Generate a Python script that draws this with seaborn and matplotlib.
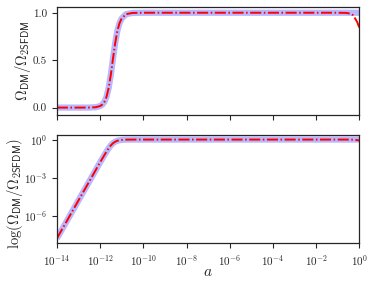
import numpy as np
import pandas as pd
import matplotlib
matplotlib.use('Agg')
import matplotlib.pyplot as plt
import matplotlib.ticker as mticker
import seaborn as sns

# scale factor a (log10 spacing)
log_a = [-14, -13.5, -13, -12.5, -12.2, -12.0, -11.9, -11.8, -11.7, -11.6,
         -11.5, -11.4, -11.3, -11.2, -11.1, -11.0, -10.8, -10.5, -10, -8,
         -6, -4, -2, -1, -0.6, -0.4, -0.3, -0.2, -0.1, 0]
# Omega_DM / Omega_2SFDM, reference solution (thick lavender band)
ratio_ref = [1.6e-8, 5.0e-7, 1.6e-5, 5.0e-4, 4.0e-3, 0.016, 0.031, 0.06, 0.115,
             0.21, 0.35, 0.52, 0.68, 0.81, 0.89, 0.94, 0.985, 0.998, 1.0, 1.0,
             1.0, 1.0, 1.0, 1.0, 1.0, 1.0, 1.0, 1.0, 1.0, 1.0]
# same ratio, second solution (red dash-dot), departs near a ~ 1
ratio_fit = [1.6e-8, 5.0e-7, 1.6e-5, 5.0e-4, 4.0e-3, 0.016, 0.031, 0.06, 0.115,
             0.21, 0.35, 0.52, 0.68, 0.81, 0.89, 0.94, 0.985, 0.998, 1.0, 1.0,
             1.0, 1.0, 1.0, 1.0, 0.998, 0.99, 0.975, 0.94, 0.9, 0.84]

df = pd.DataFrame({'a': 10.0 ** np.array(log_a), 'ref': ratio_ref, 'fit': ratio_fit})

sns.set_style('ticks')
plt.rcParams['font.family'] = 'serif'
plt.rcParams['font.serif'] = ['cmr10', 'DejaVu Serif']
plt.rcParams['mathtext.fontset'] = 'cm'
plt.rcParams['axes.formatter.use_mathtext'] = True
plt.rcParams['xtick.labelsize'] = 8
plt.rcParams['ytick.labelsize'] = 8

fig, (ax1, ax2) = plt.subplots(2, 1, figsize=(3.74, 2.86), dpi=100, sharex=True)
fig.subplots_adjust(left=0.152, right=0.961, top=0.977, bottom=0.149, hspace=0.19)

for ax in (ax1, ax2):
    sns.lineplot(data=df, x='a', y='ref', ax=ax, color='blue', alpha=0.28, lw=4.5,
                 solid_capstyle='butt')
    sns.lineplot(data=df, x='a', y='fit', ax=ax, color='red', lw=1.4,
                 linestyle=(0, (5.7, 1.3, 0.8, 1.3)))
    ax.set_xscale('log')
    ax.set_xlim(1e-14, 1e0)
    for s in ax.spines.values():
        s.set_linewidth(0.9)

ax1.set_ylim(-0.075, 1.065)
ax1.set_yticks([0.0, 0.5, 1.0])
ax1.yaxis.set_major_formatter(mticker.FormatStrFormatter('%.1f'))
ax1.set_xlabel('')
ax1.set_ylabel(r'$\Omega_{\mathsf{DM}}/\Omega_{\mathsf{2SFDM}}$', fontsize=10.5)
ax1.yaxis.set_label_coords(-0.08, 0.5)

ax2.set_yscale('log')
ax2.set_ylim(10 ** -8.18, 10 ** 0.34)
ax2.yaxis.set_major_locator(mticker.FixedLocator([1e-6, 1e-3, 1e0]))
ax2.yaxis.set_minor_locator(mticker.NullLocator())
ax2.xaxis.set_major_locator(mticker.FixedLocator([10.0 ** k for k in range(-14, 1, 2)]))
ax2.xaxis.set_minor_locator(mticker.NullLocator())
ax2.set_xlabel(r'$a$', fontsize=11, labelpad=-1.5)
ax2.set_ylabel(r'$\log(\Omega_{\mathsf{DM}}/\Omega_{\mathsf{2SFDM}})$', fontsize=10.5)
ax2.yaxis.set_label_coords(-0.105, 0.46)

fig.savefig('out.png', dpi=100)
